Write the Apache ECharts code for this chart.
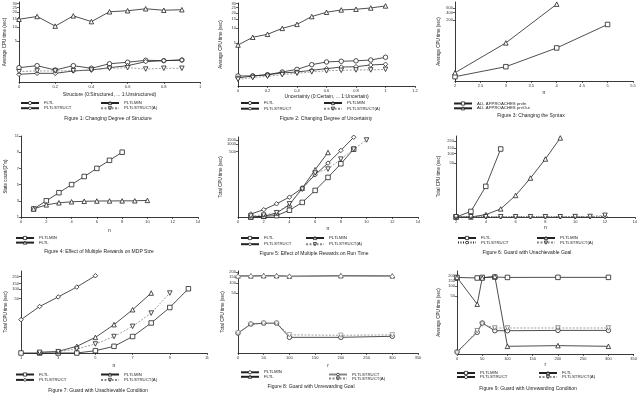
<!DOCTYPE html>
<html><head><meta charset="utf-8">
<script src="https://cdn.jsdelivr.net/npm/echarts@6/dist/echarts.min.js"></script>
<style>html,body{margin:0;padding:0;background:#fff}#c{width:640px;height:395px}</style>
</head><body><div id="c"></div>
<script>
// ---------- DATA ----------
// Figure 1: Changing Degree of Structure
const f1X = [0, 0.1, 0.2, 0.3, 0.4, 0.5, 0.6, 0.7, 0.8, 0.9];
const f1PLTLMIN = [14.5, 16.5, 10.5, 17, 13, 20.5, 21.5, 23.5, 22, 22.5];
const f1FLTL = [0.87, 1.04, 0.69, 1.04, 0.82, 1.22, 1.37, 1.58, 1.54, 1.61];
const f1PLTLSTRUCT = [0.4, 0.46, 0.46, 0.62, 0.69, 0.87, 1.04, 1.43, 1.54, 1.61];
const f1PLTLSTRUCTA = [0.57, 0.62, 0.62, 0.64, 0.69, 0.82, 0.87, 0.76, 0.82, 0.82];
const f1YTicks = [5, 10, 15, 20, 25, 30];
const f1XTicks = [0, 0.2, 0.4, 0.6, 0.8, 1];
// Figure 2: Changing Degree of Uncertainty
const f2X = [0, 0.1, 0.2, 0.3, 0.4, 0.5, 0.6, 0.7, 0.8, 0.9, 1.0];
const f2PLTLMIN = [4.5, 6.6, 7.6, 10, 12, 17, 20.5, 22.7, 23.4, 24.7, 27];
const f2FLTL = [0.52, 0.52, 0.6, 0.79, 1.0, 1.43, 1.72, 1.8, 1.85, 1.95, 2.3];
const f2PLTLSTRUCT = [0.4, 0.52, 0.6, 0.72, 0.79, 0.92, 1.06, 1.2, 1.23, 1.4, 1.47];
const f2PLTLSTRUCTA = [0.32, 0.42, 0.5, 0.6, 0.7, 0.8, 0.88, 0.92, 0.95, 0.95, 1.0];
const f2YTicks = [5, 10, 15, 20, 25, 30];
const f2XTicks = [0, 0.2, 0.4, 0.6, 0.8, 1, 1.2];
// Figure 3: Changing the Syntax
const f3XIn = [2, 3, 4, 5];
const f3PrvIn = [0.46, 2.5, 17, 139];
const f3XOut = [2, 3, 4];
const f3PrvOut = [1.06, 27, 825];
const f3YTicks = [200, 400, 600, 800, 1000];
const f3XTicks = [2, 2.5, 3, 3.5, 4, 4.5, 5, 5.5];
// Figure 4: Effect of Multiple Rewards on MDP Size
const f4XMin = [1, 2, 3, 4, 5, 6, 7, 8];
const f4PLTLMIN = [2, 3, 4, 5, 6, 7, 8, 9];
const f4XFl = [1, 2, 3, 4, 5, 6, 7, 8, 9, 10];
const f4FLTL = [2, 2.5, 2.75, 2.88, 2.94, 2.97, 2.98, 2.99, 3.0, 3.05];
const f4YTicks = [1, 3, 5, 7, 9, 11];
const f4XTicks = [0, 2, 4, 6, 8, 10, 12, 14];
// Figure 5: Effect of Multiple Rewards on Run Time
const f5XFl = [1, 2, 3, 4, 5, 6, 7, 8, 9];
const f5FLTL = [0, 0.07, 0.14, 0.9, 3.0, 11.5, 42, 156, 624];
const f5XMin = [1, 2, 3, 4, 5, 6, 7];
const f5PLTLMIN = [0, 0.07, 0.46, 2.2, 14.6, 88, 459];
const f5XSt = [1, 2, 3, 4, 5, 6, 7, 8, 9];
const f5PLTLSTRUCT = [0.33, 1.0, 2.5, 5.6, 14.6, 54, 166, 555, 1950];
const f5XStA = [1, 2, 3, 4, 5, 6, 7, 8, 9, 10];
const f5PLTLSTRUCTA = [0.1, 0.2, 0.5, 2.5, 13, 64, 94, 243, 624, 1500];
const f5YTicks = [500, 1000, 1500];
const f5XTicks = [0, 2, 4, 6, 8, 10, 12, 14];
// Figure 6: Guard with Unachievable Goal
const f6XFl = [2, 3, 4, 5];
const f6FLTL = [0, 0.5, 8.3, 140];
const f6XMin = [2, 3, 4, 5, 6, 7, 8, 9];
const f6PLTLMIN = [0, 0, 0.19, 0.8, 3.8, 16, 67, 314];
const f6XSt = [2, 3, 4, 5, 6, 7, 8, 9, 10, 11, 12];
const f6PLTLSTRUCT = [0.02, 0.02, 0.02, 0.02, 0.02, 0.02, 0.02, 0.02, 0.02, 0.02, 0.03];
const f6PLTLSTRUCTA = [0.02, 0.02, 0.02, 0.02, 0.02, 0.02, 0.02, 0.02, 0.03, 0.04, 0.13];
const f6YTicks = [50, 100, 150, 250, 300];
const f6XTicks = [2, 4, 6, 8, 10, 12, 14];
// Figure 7: Guard with Unachievable Condition
const f7XSt = [1, 2, 3, 4, 5];
const f7PLTLSTRUCT = [10.2, 28, 57, 118, 269];
const f7XFl = [1, 2, 3, 4, 5, 6, 7, 8, 9, 10];
const f7FLTL = [0, 0, 0, 0, 0.18, 0.62, 2.3, 7.8, 26, 104];
const f7XMin = [2, 3, 4, 5, 6, 7, 8];
const f7PLTLMIN = [0.05, 0.13, 0.62, 2.1, 6.8, 22, 76];
const f7XStA = [2, 3, 4, 5, 6, 7, 8, 9];
const f7PLTLSTRUCTA = [0.05, 0.1, 0.34, 0.92, 2.3, 5.9, 17, 76];
const f7YTicks = [50, 100, 150, 250, 300];
const f7XTicks = [1, 3, 5, 7, 9, 11];
// Figure 8: Guard with Unrewarding Goal
const f8R = [0, 25, 50, 75, 100, 200, 300];
const f8FLTL = [158, 158, 160, 160, 155, 160, 158];
const f8PLTLSTRUCT = [152, 153, 155, 155, 150, 155, 152];
const f8PLTLMIN = [2.7, 5.7, 6.1, 6.1, 1.8, 1.8, 2.0];
const f8PLTLSTRUCTA = [2.7, 5.5, 6.0, 6.0, 2.3, 2.2, 2.3];
const f8YTicks = [50, 100, 150, 200];
const f8XTicks = [0, 50, 100, 150, 200, 250, 300, 350];
// Figure 9: Guard with Unrewarding Condition
const f9R = [0, 40, 50, 75, 100, 200, 300];
const f9PLTLMIN = [185, 178, 185, 190, 185, 186, 186];
const f9FLTL = [185, 29, 178, 198, 0.69, 0.77, 0.69];
const f9PLTLSTRUCT = [0.15, 3.4, 7.3, 3.9, 3.9, 4.0, 4.0];
const f9PLTLSTRUCTA = [0.07, 3.9, 6.7, 4.9, 4.9, 4.9, 4.9];
const f9YTicks = [50, 100, 150, 200];
const f9XTicks = [0, 50, 100, 150, 200, 250, 300, 350];

// ---------- LAYOUT ----------
const FONT = '"Liberation Sans", Arial, sans-serif';
const INK = '#222';
const T = v => Math.log10(1 + v);
const INV = 'path://M0,0L10,0L5,9Z';

const panels = [
  { grid:{left:19,top:2,width:181,height:80}, log:true, ymin:0, ymax:1.518, yt:f1YTicks, xmin:0, xmax:1, xt:f1XTicks,
    xname:'Structure (0:Structured, ... 1:Unstructured)', xgap:10, yname:'Average CPU time (sec)', ygap:12,
    series:[['FLTL',f1X,f1FLTL,'circle'],['PLTLMIN',f1X,f1PLTLMIN,'triangle'],['PLTLSTRUCT',f1X,f1PLTLSTRUCT,'diamond'],['PLTLSTRUCT(A)',f1X,f1PLTLSTRUCTA,INV,'dash']],
    legends:[{left:20,top:101,gap:1.2,names:['FLTL','PLTLSTRUCT']},{left:100,top:101,gap:1.2,names:['PLTLMIN','PLTLSTRUCT(A)']}],
    cap:['Figure 1: Changing Degree of Structure',108,118.5] },
  { grid:{left:238,top:3,width:177,height:83}, log:true, ymin:0, ymax:1.50, yt:f2YTicks, xmin:0, xmax:1.2, xt:f2XTicks,
    xname:'Uncertainty (0:Certain, ... 1:Uncertain)', xgap:8, yname:'Average CPU time (sec)', ygap:15,
    series:[['FLTL',f2X,f2FLTL,'circle'],['PLTLMIN',f2X,f2PLTLMIN,'triangle'],['PLTLSTRUCT',f2X,f2PLTLSTRUCT,'diamond'],['PLTLSTRUCT(A)',f2X,f2PLTLSTRUCTA,INV,'dash']],
    legends:[{left:240,top:101,gap:1.7,names:['FLTL','PLTLSTRUCT']},{left:323,top:101,gap:1.7,names:['PLTLMIN','PLTLSTRUCT(A)']}],
    cap:['Figure 2: Changing Degree of Uncertainty',326,118.5] },
  { grid:{left:455,top:2,width:178,height:79}, log:true, ymin:0, ymax:3.0, yt:f3YTicks, xmin:2, xmax:5.5, xt:f3XTicks,
    xname:'n', xgap:9, yname:'Average CPU time (sec)', ygap:14,
    series:[['ALL APPROACHES prvIn',f3XIn,f3PrvIn,'rect'],['ALL APPROACHES prvOut',f3XOut,f3PrvOut,'triangle']],
    legends:[{left:453,top:101.5,gap:0.8,names:['ALL APPROACHES prvIn','ALL APPROACHES prvOut']}],
    cap:['Figure 3: Changing the Syntax',531,115.5] },
  { grid:{left:21,top:136,width:177,height:81}, log:false, ymin:1, ymax:11, yt:f4YTicks, xmin:0, xmax:14, xt:f4XTicks,
    xname:'n', xgap:11, yname:'State count/(2^n)', ygap:13,
    series:[['PLTLMIN',f4XMin,f4PLTLMIN,'rect'],['FLTL',f4XFl,f4FLTL,'triangle']],
    legends:[{left:15,top:236,gap:0.6,names:['PLTLMIN','FLTL']}],
    cap:['Figure 4: Effect of Multiple Rewards on MDP Size',99,251.5] },
  { grid:{left:238,top:137,width:180,height:80}, log:true, ymin:0, ymax:3.3, yt:f5YTicks, xmin:0, xmax:14, xt:f5XTicks,
    xname:'n', xgap:9, yname:'Total CPU time (sec)', ygap:13,
    series:[['FLTL',f5XFl,f5FLTL,'rect'],['PLTLMIN',f5XMin,f5PLTLMIN,'triangle'],['PLTLSTRUCT',f5XSt,f5PLTLSTRUCT,'diamond'],['PLTLSTRUCT(A)',f5XStA,f5PLTLSTRUCTA,INV,'dash']],
    legends:[{left:240,top:236,gap:2.2,names:['FLTL','PLTLSTRUCT']},{left:305,top:236,gap:2.2,names:['PLTLMIN','PLTLSTRUCT(A)']}],
    cap:['Figure 5: Effect of Multiple Rewards on Run Time',314,253.5] },
  { grid:{left:456,top:136,width:182,height:81}, log:true, ymin:0, ymax:2.56, yt:f6YTicks, xmin:2, xmax:14, xt:f6XTicks,
    xname:'n', xgap:8, yname:'Total CPU time (sec)', ygap:15,
    series:[['FLTL',f6XFl,f6FLTL,'rect'],['PLTLMIN',f6XMin,f6PLTLMIN,'triangle'],['PLTLSTRUCT',f6XSt,f6PLTLSTRUCT,'diamond','dot'],['PLTLSTRUCT(A)',f6XSt,f6PLTLSTRUCTA,INV,'dash']],
    legends:[{left:457,top:236,gap:0.6,names:['FLTL','PLTLSTRUCT']},{left:536,top:236,gap:0.6,names:['PLTLMIN','PLTLSTRUCT(A)']}],
    cap:['Figure 6: Guard with Unachievable Goal',527,253] },
  { grid:{left:21,top:271,width:186,height:82}, log:true, ymin:0, ymax:2.58, yt:f7YTicks, xmin:1, xmax:11, xt:f7XTicks,
    xname:'n', xgap:10, yname:'Total CPU time (sec)', ygap:13,
    series:[['FLTL',f7XFl,f7FLTL,'rect'],['PLTLMIN',f7XMin,f7PLTLMIN,'triangle'],['PLTLSTRUCT',f7XSt,f7PLTLSTRUCT,'diamond'],['PLTLSTRUCT(A)',f7XStA,f7PLTLSTRUCTA,INV,'dash']],
    legends:[{left:15,top:372.5,gap:1.4,names:['FLTL','PLTLSTRUCT']},{left:100,top:372.5,gap:1.4,names:['PLTLMIN','PLTLSTRUCT(A)']}],
    cap:['Figure 7: Guard with Unachievable Condition',98,391] },
  { grid:{left:238,top:271,width:180,height:82}, log:true, ymin:0, ymax:2.34, yt:f8YTicks, xmin:0, xmax:350, xt:f8XTicks,
    xname:'r', xgap:10, yname:'Total CPU time (sec)', ygap:13,
    series:[['PLTLMIN',f8R,f8PLTLMIN,'circle'],['FLTL',f8R,f8FLTL,'triangle'],['PLTLSTRUCT',f8R,f8PLTLSTRUCT,'diamond',null,'#888'],['PLTLSTRUCT(A)',f8R,f8PLTLSTRUCTA,INV,'dash','#999']],
    legends:[{left:240,top:370.3,gap:0.5,names:['PLTLMIN','FLTL']},{left:328,top:372.5,gap:0,names:['PLTLSTRUCT','PLTLSTRUCT(A)']}],
    cap:['Figure 8: Guard with Unrewarding Goal',311,387] },
  { grid:{left:457,top:271,width:178,height:83}, log:true, ymin:0, ymax:2.46, yt:f9YTicks, xmin:0, xmax:350, xt:f9XTicks,
    xname:'r', xgap:7, yname:'Average CPU time (sec)', ygap:16,
    series:[['PLTLMIN',f9R,f9PLTLMIN,'rect'],['FLTL',f9R,f9FLTL,'triangle'],['PLTLSTRUCT',f9R,f9PLTLSTRUCT,'circle'],['PLTLSTRUCT(A)',f9R,f9PLTLSTRUCTA,INV,'dash','#777']],
    legends:[{left:456,top:371,gap:0,names:['PLTLMIN','PLTLSTRUCT']},{left:538,top:371,gap:0,names:['FLTL','PLTLSTRUCT(A)']}],
    cap:['Figure 9: Guard with Unrewarding Condition',528,388.5] }
];

const grid = [], xAxis = [], yAxis = [], series = [], legend = [], graphic = [];
panels.forEach((p, i) => {
  grid.push(Object.assign({}, p.grid));
  const axLine = {show:true, onZero:false, lineStyle:{color:INK, width:0.9}};
  const lbl = {fontSize:4, color:'#333', fontFamily:FONT};
  xAxis.push({
    gridIndex:i, type:'value', min:p.xmin, max:p.xmax,
    axisLine:axLine, splitLine:{show:false},
    axisTick:{show:true, length:2, customValues:p.xt, lineStyle:{color:INK, width:0.7}},
    axisLabel:Object.assign({customValues:p.xt, margin:3}, lbl),
    name:p.xname, nameLocation:'middle', nameGap:p.xgap,
    nameTextStyle:{fontSize:5, color:'#222', fontFamily:FONT}
  });
  const yvals = p.log ? p.yt.map(T) : p.yt;
  yAxis.push({
    gridIndex:i, type:'value', min:p.ymin, max:p.ymax,
    axisLine:axLine, splitLine:{show:false},
    axisTick:{show:true, length:2, customValues:yvals, lineStyle:{color:INK, width:0.7}},
    axisLabel:Object.assign({customValues:yvals, margin:2,
      formatter: v => p.log ? String(Math.round(Math.pow(10, v) - 1)) : String(v)}, lbl),
    name:p.yname, nameLocation:'middle', nameGap:p.ygap, nameRotate:90,
    nameTextStyle:{fontSize:4.5, color:'#222', fontFamily:FONT}
  });
  p.series.forEach(s => {
    const [name, xs, vs, sym, style, col] = s;
    const c = col || INK;
    series.push({
      type:'line', name:name + '|' + i, xAxisIndex:i, yAxisIndex:i,
      data: xs.map((x, j) => [x, p.log ? T(vs[j]) : vs[j]]),
      symbol:sym, symbolSize:4.5, showAllSymbol:true, animation:false, clip:false,
      lineStyle:{color: style === 'dash' ? '#888' : c, width:0.8,
        type: style === 'dash' ? [2, 1.5] : (style === 'dot' ? [1, 1.5] : 'solid')},
      itemStyle:{color:'#fff', borderColor:c, borderWidth:0.8}
    });
  });
  p.legends.forEach(L => {
    legend.push({
      left:L.left, top:L.top, orient:'vertical', itemGap:L.gap, itemWidth:18, itemHeight:4,
      padding:0, selectedMode:false,
      itemStyle:{color:'#fff', borderColor:INK, borderWidth:0.8},
      data:L.names.map(n => n + '|' + i),
      formatter:n => n.split('|')[0],
      textStyle:{fontSize:4.3, color:'#222', fontFamily:FONT}
    });
  });
  graphic.push({type:'text', x:p.cap[1], y:p.cap[2],
    style:{text:p.cap[0], fill:'#222', font:'5px ' + FONT, align:'center', verticalAlign:'middle'}});
});

const chart = echarts.init(document.getElementById('c'), null, {renderer:'canvas'});
chart.setOption({
  backgroundColor:'#fff', animation:false,
  textStyle:{fontFamily:FONT},
  grid, xAxis, yAxis, series, legend, graphic
});
</script></body></html>
